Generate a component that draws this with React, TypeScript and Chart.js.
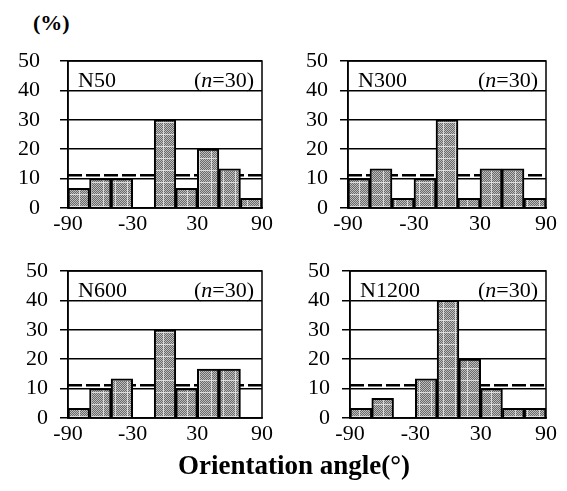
import React, { useEffect, useRef } from "react";
import { Chart, registerables } from "chart.js";

Chart.register(...registerables);

// ---- data ----
const binCenters = [-80, -60, -40, -20, 0, 20, 40, 60, 80];
const xTickValues = [-90, -30, 30, 90];
const yTickValues = [0, 10, 20, 30, 40, 50];
const uniformLevel = 100 / 9;
const panelNames = ["N50", "N300", "N600", "N1200"];
const sampleSizes = [30, 30, 30, 30];
const n50Values = [6.67, 10, 10, 0, 30, 6.67, 20, 13.33, 3.33];
const n300Values = [10, 13.33, 3.33, 10, 30, 3.33, 13.33, 13.33, 3.33];
const n600Values = [3.33, 10, 13.33, 0, 30, 10, 16.67, 16.67, 0];
const n1200Values = [3.33, 6.67, 0, 13.33, 40, 20, 10, 3.33, 3.33];
const panelValues = [n50Values, n300Values, n600Values, n1200Values];

const SERIF = "'Liberation Serif', 'Times New Roman', serif";

// ---- layout (positions only) ----
const panelBoxes = [
  { left: 0, top: 45, width: 280, height: 200, yWidth: 68, padTop: 16, padRight: 18, xHeight: 37, labelPad: 20 },
  { left: 280, top: 45, width: 287, height: 200, yWidth: 68, padTop: 16, padRight: 21, xHeight: 37, labelPad: 12 },
  { left: 0, top: 255, width: 280, height: 200, yWidth: 68, padTop: 16, padRight: 18, xHeight: 37, labelPad: 12 },
  { left: 280, top: 255, width: 287, height: 200, yWidth: 70, padTop: 16, padRight: 21, xHeight: 37, labelPad: 12 },
];

function makePattern(): CanvasPattern | string {
  const c = document.createElement("canvas");
  c.width = 12;
  c.height = 12;
  const g = c.getContext("2d");
  if (!g) return "#999";
  for (let y = 0; y < 12; y++) {
    for (let x = 0; x < 12; x++) {
      g.fillStyle = (x + y) % 2 === 0 ? "#6a6a6a" : "#bdbdbd";
      g.fillRect(x, y, 1, 1);
    }
  }
  g.fillStyle = "rgba(235,235,235,0.8)";
  g.fillRect(7, 0, 1, 12);
  g.fillRect(0, 5, 12, 1);
  const p = g.createPattern(c, "repeat");
  return p || "#999";
}

function Panel({ idx }: { idx: number }) {
  const ref = useRef<HTMLCanvasElement | null>(null);
  const box = panelBoxes[idx];
  useEffect(() => {
    if (!ref.current) return;
    const pattern = makePattern();
    const values = panelValues[idx];
    const framePlugin = {
      id: "frame" + idx,
      afterDraw(chart: any) {
        const { ctx, chartArea } = chart;
        const { left, top, right, bottom } = chartArea;
        ctx.save();
        ctx.strokeStyle = "#000";
        ctx.lineWidth = 1.5;
        ctx.strokeRect(left, top, right - left, bottom - top);
        ctx.fillStyle = "#000";
        ctx.textBaseline = "alphabetic";
        ctx.textAlign = "left";
        const base = top + 26;
        ctx.font = `22px ${SERIF}`;
        ctx.fillText(panelNames[idx], left + 10, base);
        const p1 = "(";
        const p2 = "n";
        const p3 = "=" + sampleSizes[idx] + ")";
        const w1 = ctx.measureText(p1).width;
        const w3 = ctx.measureText(p3).width;
        ctx.font = `italic 22px ${SERIF}`;
        const w2 = ctx.measureText(p2).width;
        let x = right - 8 - (w1 + w2 + w3);
        ctx.font = `22px ${SERIF}`;
        ctx.fillText(p1, x, base);
        x += w1;
        ctx.font = `italic 22px ${SERIF}`;
        ctx.fillText(p2, x, base);
        x += w2;
        ctx.font = `22px ${SERIF}`;
        ctx.fillText(p3, x, base);
        ctx.restore();
      },
    };
    const chart = new Chart(ref.current, {
      type: "bar",
      data: {
        datasets: [
          {
            type: "bar",
            data: binCenters.map((c, i) => ({ x: c, y: values[i] })),
            backgroundColor: pattern as any,
            borderColor: "#000",
            borderWidth: 2,
            barPercentage: 1,
            categoryPercentage: 1,
            order: 1,
          } as any,
          {
            type: "line",
            data: [
              { x: -90, y: uniformLevel },
              { x: 90, y: uniformLevel },
            ],
            borderColor: "#000",
            borderWidth: 2.5,
            borderDash: [14, 4],
            pointRadius: 0,
            fill: false,
            order: 2,
          } as any,
        ],
      },
      options: {
        animation: false,
        responsive: false,
        maintainAspectRatio: false,
        events: [],
        layout: { padding: { top: box.padTop, right: box.padRight, left: 0, bottom: 0 } },
        plugins: { legend: { display: false }, tooltip: { enabled: false }, title: { display: false } },
        scales: {
          x: {
            type: "linear",
            min: -90,
            max: 90,
            offset: false,
            afterBuildTicks: (s: any) => {
              s.ticks = xTickValues.map((v) => ({ value: v }));
            },
            afterFit: (s: any) => {
              s.height = box.xHeight;
            },
            grid: { display: false, drawTicks: false, offset: false },
            border: { display: true, color: "#000", width: 1.5 },
            ticks: {
              color: "#000",
              font: { family: SERIF, size: 22 },
              padding: 3,
              maxRotation: 0,
              autoSkip: false,
              callback: (v: any) => String(v),
            },
          },
          y: {
            min: 0,
            max: 50,
            afterBuildTicks: (s: any) => {
              s.ticks = yTickValues.map((v) => ({ value: v }));
            },
            afterFit: (s: any) => {
              s.width = box.yWidth;
              s.paddingTop = 0;
              s.paddingBottom = 0;
            },
            grid: { color: "#000", lineWidth: 1.5, drawTicks: true, tickLength: 8, tickColor: "#000" },
            border: { display: true, color: "#000", width: 1.5 },
            ticks: {
              color: "#000",
              font: { family: SERIF, size: 22 },
              padding: box.labelPad,
              autoSkip: false,
              callback: (v: any) => String(v),
            },
          },
        },
      } as any,
      plugins: [framePlugin],
    });
    return () => chart.destroy();
  }, [idx]);
  return (
    <canvas
      ref={ref}
      width={box.width}
      height={box.height}
      style={{ position: "absolute", left: box.left, top: box.top, width: box.width, height: box.height }}
    />
  );
}

export default function App() {
  return (
    <div style={{ position: "absolute", left: 0, top: 0, width: 567, height: 491, background: "#fff", overflow: "hidden" }}>
      <div
        style={{
          position: "absolute",
          left: 33,
          top: 12,
          fontFamily: SERIF,
          fontWeight: "bold",
          fontSize: 22,
          lineHeight: "22px",
          color: "#000",
        }}
      >
        (%)
      </div>
      {panelBoxes.map((_, i) => (
        <Panel key={i} idx={i} />
      ))}
      <div
        style={{
          position: "absolute",
          left: 0,
          width: 567,
          top: 452,
          textAlign: "center",
          paddingLeft: 21,
          boxSizing: "border-box",
          fontFamily: SERIF,
          fontWeight: "bold",
          fontSize: 27,
          lineHeight: "27px",
          color: "#000",
        }}
      >
        Orientation angle(°)
      </div>
    </div>
  );
}
